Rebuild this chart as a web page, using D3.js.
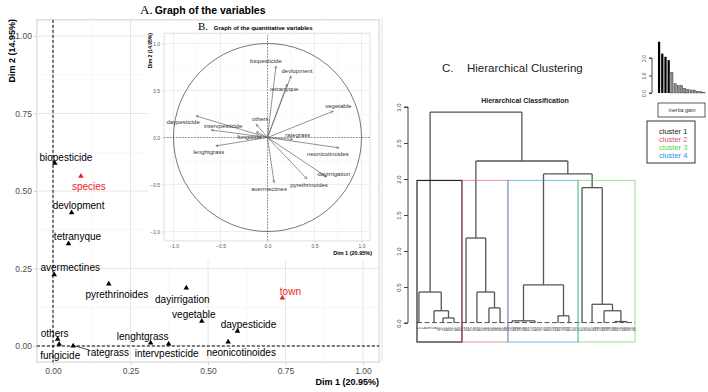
<!DOCTYPE html>
<html>
<head>
<meta charset="utf-8">
<script src="https://cdn.jsdelivr.net/npm/d3@7"></script>
<style>
  body { margin: 0; background: #fff; }
  text { font-family: "Liberation Sans", Arial, sans-serif; }
</style>
</head>
<body>
<script>
// ---- Data ----
// A. variables (correlation ratios on Dim 1 / Dim 2)
var varNames = ["biopesticide", "devlopment", "tetranyque", "avermectines", "pyrethrinoides",
  "dayirrigation", "vegetable", "daypesticide", "others", "fungicide", "rategrass",
  "lenghtgrass", "intervpesticide", "neonicotinoides"];
var varDim1 = [0.006, 0.06, 0.05, 0.004, 0.18, 0.43, 0.48, 0.595, 0.015, 0.02, 0.065, 0.315, 0.373, 0.565];
var varDim2 = [0.59, 0.43, 0.33, 0.23, 0.20, 0.187, 0.08, 0.048, 0.022, 0.006, 0.0, 0.01, 0.007, 0.013];
// supplementary qualitative variables
var supNames = ["species", "town"];
var supDim1 = [0.09, 0.74];
var supDim2 = [0.548, 0.155];

// B. quantitative variables (correlation circle)
var arrowNames = ["biopesticide", "devlopment", "tetranyque", "vegetable", "others", "daypesticide",
  "intervpesticide", "fungicide", "rategrass", "lenghtgrass", "neonicotinoides", "dayirrigation",
  "pyrethrinoides", "avermectines"];
var arrowDim1 = [0.09, 0.25, 0.21, 0.70, -0.12, -0.76, -0.60, -0.12, 0.27, -0.55, 0.76, 0.63, 0.42, 0.07];
var arrowDim2 = [0.76, 0.655, 0.57, 0.28, 0.14, 0.23, 0.08, 0.06, -0.02, -0.09, -0.11, -0.42, -0.44, -0.48];

// C. hierarchical clustering: merge heights, leaf positions (0-100 along the tree)
var tree = {h: 2.93, c: [
  {h: 0.43, c: [{x: 0.9}, {h: 0.17, c: [{x: 7.8}, {h: 0.07, c: [{x: 11.9}, {x: 17.0}]}]}]},
  {h: 2.25, c: [
    {h: 1.18, c: [{x: 22.5}, {h: 0.43, c: [{x: 27.5}, {h: 0.21, c: [{x: 33.0}, {x: 38.1}]}]}]},
    {h: 2.07, c: [
      {h: 0.53, c: [{h: 0.03, c: [{x: 43.6}, {x: 54.1}]}, {h: 0.10, c: [{x: 64.7}, {x: 69.7}]}]},
      {h: 1.88, c: [{x: 75.7}, {h: 0.26, c: [{x: 80.3}, {h: 0.17, c: [{x: 85.8}, {h: 0.02, c: [{x: 90.8}, {x: 96.3}]}]}]}]}
    ]}
  ]}
]};
var clusterNames = ["cluster 1", "cluster 2", "cluster 3", "cluster 4"];
var clusterColors = ["#000000", "#DF536B", "#61D04F", "#2297E6"];
// cluster boxes, left to right: [start, end, cluster index]
var boxStart = [0, 20.6, 41.7, 73.9];
var boxEnd = [20.6, 41.7, 73.9, 100];
var boxCluster = [0, 1, 3, 2];
var cutHeight = 1.98;
var inertiaGain = [2.93, 2.25, 2.07, 1.88, 1.18, 0.53, 0.43, 0.43, 0.26, 0.21, 0.17, 0.17, 0.10, 0.07, 0.03];
var individuals = d3.range(1, 99).map(String);

// ---- Layout ----
var svg = d3.select("body").append("svg")
  .attr("width", 708)
  .attr("height", 392);

var serif = "'Liberation Serif', 'Times New Roman', serif";

// ========== Panel A ==========
var xA = d3.scaleLinear().domain([0, 1]).range([53, 363]);
var yA = d3.scaleLinear().domain([0, 1]).range([346, 36]);
var lo = -0.052, hi = 1.052;

var gA = svg.append("g");
gA.append("rect")
  .attr("x", xA(lo)).attr("y", yA(hi))
  .attr("width", xA(hi) - xA(lo)).attr("height", yA(lo) - yA(hi))
  .attr("fill", "#fff").attr("stroke", "#cfcfcf");

var majorA = [0, 0.25, 0.5, 0.75, 1];
var minorA = [0.125, 0.375, 0.625, 0.875];
function gridA(vals, col, w) {
  gA.selectAll(null).data(vals).enter().append("line")
    .attr("x1", d => xA(d)).attr("x2", d => xA(d))
    .attr("y1", yA(hi)).attr("y2", yA(lo))
    .attr("stroke", col).attr("stroke-width", w);
  gA.selectAll(null).data(vals).enter().append("line")
    .attr("y1", d => yA(d)).attr("y2", d => yA(d))
    .attr("x1", xA(lo)).attr("x2", xA(hi))
    .attr("stroke", col).attr("stroke-width", w);
}
gridA(minorA, "#f2f2f2", 0.6);
gridA(majorA, "#e3e3e3", 0.9);

// axes
var axA = gA.append("g")
  .attr("transform", `translate(0, ${yA(lo)})`)
  .call(d3.axisBottom(xA).tickValues(majorA).tickFormat(d3.format(".2f")).tickSize(3).tickPadding(3));
var ayA = gA.append("g")
  .attr("transform", `translate(${xA(lo)}, 0)`)
  .call(d3.axisLeft(yA).tickValues(majorA).tickFormat(d3.format(".2f")).tickSize(3).tickPadding(2));
[axA, ayA].forEach(function(a) {
  a.select(".domain").remove();
  a.selectAll("line").attr("stroke", "#cfcfcf");
  a.selectAll("text").attr("fill", "#4d4d4d").style("font-size", "8.5px")
    .style("font-family", "'Liberation Sans', Arial, sans-serif");
});

// reference lines
gA.append("line")
  .attr("x1", xA(0)).attr("x2", xA(0)).attr("y1", yA(hi)).attr("y2", yA(lo))
  .attr("stroke", "#000").attr("stroke-dasharray", "3,2");
gA.append("line")
  .attr("x1", xA(lo)).attr("x2", xA(hi)).attr("y1", yA(0)).attr("y2", yA(0))
  .attr("stroke", "#000").attr("stroke-dasharray", "3,2");

// axis titles
gA.append("text")
  .attr("x", xA(hi)).attr("y", 385)
  .attr("text-anchor", "end")
  .style("font-size", "9px").style("font-weight", "bold")
  .text("Dim 1 (20.95%)");
gA.append("text")
  .attr("transform", `translate(15, ${yA(hi) - 1}) rotate(-90)`)
  .attr("text-anchor", "end")
  .style("font-size", "9px").style("font-weight", "bold")
  .text("Dim 2 (14.95%)");

// title
var tA = gA.append("text").attr("x", 140).attr("y", 14);
tA.append("tspan").style("font-family", serif).style("font-size", "13px").text("A.");
tA.append("tspan").attr("dx", 2).style("font-size", "10.5px").style("font-weight", "bold").text("Graph of the variables");

// ========== Panel B (inset) ==========
var gB = svg.append("g");
gB.append("rect").attr("x", 148).attr("y", 21).attr("width", 230).attr("height", 240)
  .attr("fill", "#fff");

var xB = d3.scaleLinear().domain([-1, 1]).range([173.5, 361.5]);
var yB = d3.scaleLinear().domain([-1, 1]).range([231.5, 43.5]);
var loB = -1.1, hiB = 1.09;

gB.append("rect")
  .attr("x", xB(loB)).attr("y", yB(hiB + 0.02))
  .attr("width", xB(hiB) - xB(loB)).attr("height", yB(loB) - yB(hiB + 0.02))
  .attr("fill", "#fff").attr("stroke", "#d5d5d5").attr("stroke-width", 0.8);

var majorB = [-1, -0.5, 0, 0.5, 1];
var minorB = [-0.75, -0.25, 0.25, 0.75];
function gridB(vals, col, w) {
  gB.selectAll(null).data(vals).enter().append("line")
    .attr("x1", d => xB(d)).attr("x2", d => xB(d))
    .attr("y1", yB(hiB + 0.02)).attr("y2", yB(loB))
    .attr("stroke", col).attr("stroke-width", w);
  gB.selectAll(null).data(vals).enter().append("line")
    .attr("y1", d => yB(d)).attr("y2", d => yB(d))
    .attr("x1", xB(loB)).attr("x2", xB(hiB))
    .attr("stroke", col).attr("stroke-width", w);
}
gridB(minorB, "#f3f3f3", 0.5);
gridB(majorB, "#e6e6e6", 0.7);

var axB = gB.append("g")
  .attr("transform", `translate(0, ${yB(loB)})`)
  .call(d3.axisBottom(xB).tickValues(majorB).tickFormat(d3.format(".1f")).tickSize(2).tickPadding(2));
var ayB = gB.append("g")
  .attr("transform", `translate(${xB(loB)}, 0)`)
  .call(d3.axisLeft(yB).tickValues(majorB).tickFormat(d3.format(".1f")).tickSize(2).tickPadding(2));
[axB, ayB].forEach(function(a) {
  a.select(".domain").remove();
  a.selectAll("line").attr("stroke", "#d5d5d5");
  a.selectAll("text").attr("fill", "#555").style("font-size", "5px")
    .style("font-family", "'Liberation Sans', Arial, sans-serif");
});

// circle and reference lines
gB.append("circle")
  .attr("cx", xB(0)).attr("cy", yB(0)).attr("r", xB(1) - xB(0))
  .attr("fill", "none").attr("stroke", "#555").attr("stroke-width", 0.8);
gB.append("line")
  .attr("x1", xB(0)).attr("x2", xB(0)).attr("y1", yB(hiB)).attr("y2", yB(loB))
  .attr("stroke", "#555").attr("stroke-width", 0.7).attr("stroke-dasharray", "1.5,1.5");
gB.append("line")
  .attr("x1", xB(loB)).attr("x2", xB(hiB)).attr("y1", yB(0)).attr("y2", yB(0))
  .attr("stroke", "#555").attr("stroke-width", 0.7).attr("stroke-dasharray", "1.5,1.5");

svg.append("defs").append("marker")
  .attr("id", "arr").attr("viewBox", "0 0 10 10")
  .attr("refX", 9).attr("refY", 5)
  .attr("markerWidth", 5).attr("markerHeight", 5)
  .attr("orient", "auto")
  .append("path").attr("d", "M1,1 L9,5 L1,9")
  .attr("fill", "none").attr("stroke", "#666").attr("stroke-width", 1.4);

gB.selectAll(null).data(arrowNames).enter().append("line")
  .attr("x1", xB(0)).attr("y1", yB(0))
  .attr("x2", (d, i) => xB(arrowDim1[i])).attr("y2", (d, i) => yB(arrowDim2[i]))
  .attr("stroke", "#666").attr("stroke-width", 0.7)
  .attr("marker-end", "url(#arr)");

// label nudges for the inset (pixels)
var nudgeB = [[-10, -5], [6, -5], [-3, 5], [5, -5], [4, -5], [-13, 6], [12, -4], [-7, 5],
  [5, -4], [-7, 6], [-11, 6], [7, -3], [2, 6], [-5, 6]];
gB.selectAll(null).data(arrowNames).enter().append("text")
  .attr("x", (d, i) => xB(arrowDim1[i]) + nudgeB[i][0])
  .attr("y", (d, i) => yB(arrowDim2[i]) + nudgeB[i][1])
  .attr("text-anchor", "middle").attr("dy", "0.35em")
  .attr("fill", "#333").style("font-size", "6px")
  .text(d => d);

gB.append("text")
  .attr("x", 372).attr("y", 255).attr("text-anchor", "end")
  .style("font-size", "5.5px").style("font-weight", "bold")
  .text("Dim 1 (20.95%)");
gB.append("text")
  .attr("transform", `translate(152, 33) rotate(-90)`)
  .attr("text-anchor", "end")
  .style("font-size", "5px").style("font-weight", "bold")
  .text("Dim 2 (14.95%)");
var tB = gB.append("text").attr("x", 198).attr("y", 30);
tB.append("tspan").style("font-family", serif).style("font-size", "11px").text("B. ");
tB.append("tspan").style("font-size", "6px").style("font-weight", "bold").attr("dx", 3)
  .text("Graph of the quantitative variables");

// ========== Panel A points (drawn above inset like the original) ==========
var pts = varNames.map((n, i) => ({name: n, x: varDim1[i], y: varDim2[i], col: "#000"}))
  .concat(supNames.map((n, i) => ({name: n, x: supDim1[i], y: supDim2[i], col: "#ee1c1c"})));
// label nudges (pixels), same order as pts
var nudgeA = [[11, -6], [7, -7], [9, -7], [16, -7], [8, 10], [-4, 11], [-8, -7], [11, -7],
  [-3, -6], [1, 11], [35, 6], [-8, -6], [-2, 10], [13, 11], [8, 10], [8, -6]];

var tri = d3.symbol().type(d3.symbolTriangle).size(13);
svg.selectAll(null).data(pts).enter().append("path")
  .attr("d", tri)
  .attr("transform", d => `translate(${xA(d.x)}, ${yA(d.y)})`)
  .attr("fill", d => d.col);

// rategrass connector
var rg = varNames.indexOf("rategrass");
svg.append("line")
  .attr("x1", xA(varDim1[rg]) + 2).attr("y1", yA(varDim2[rg]))
  .attr("x2", xA(varDim1[rg]) + nudgeA[rg][0] - 19).attr("y2", yA(varDim2[rg]) + nudgeA[rg][1] - 2)
  .attr("stroke", "#000").attr("stroke-width", 0.7);

svg.selectAll(null).data(pts).enter().append("text")
  .attr("x", (d, i) => xA(d.x) + nudgeA[i][0])
  .attr("y", (d, i) => yA(d.y) + nudgeA[i][1])
  .attr("text-anchor", "middle").attr("dy", "0.35em")
  .attr("fill", d => d.col)
  .style("font-size", "10px")
  .text(d => d.name);

// ========== Panel C ==========
var gC = svg.append("g");
gC.append("line").attr("x1", 382).attr("x2", 382).attr("y1", 18).attr("y2", 362)
  .attr("stroke", "#e2e2e2");

var tC = gC.append("text").attr("x", 442).attr("y", 72).attr("fill", "#222")
  .style("font-size", "11.5px");
tC.append("tspan").text("C.");
tC.append("tspan").attr("x", 467).text("Hierarchical Clustering");

gC.append("text").attr("x", 525).attr("y", 103).attr("text-anchor", "middle")
  .style("font-size", "7px").style("font-weight", "bold").attr("fill", "#222")
  .text("Hierarchical Classification");

var xC = d3.scaleLinear().domain([0, 100]).range([417, 635]);
var yC = d3.scaleLinear().domain([0, 3]).range([323, 107]);

var ayC = gC.append("g").attr("transform", "translate(408, 0)")
  .call(d3.axisLeft(yC).tickValues([0, 0.5, 1, 1.5, 2, 2.5, 3]).tickFormat(d3.format(".1f")).tickSize(4));
ayC.select(".domain").attr("stroke", "#444").attr("d", `M-4,${yC(0)}H0V${yC(3)}H-4`);
ayC.selectAll("line").attr("stroke", "#444");
ayC.selectAll("text")
  .attr("transform", "rotate(-90)").attr("x", 0).attr("y", -7).attr("dy", 0)
  .style("text-anchor", "middle").style("font-size", "6px").attr("fill", "#444")
  .style("font-family", "'Liberation Sans', Arial, sans-serif");

// tree
var root = d3.hierarchy(tree, d => d.c);
root.eachAfter(function(n) {
  if (n.children) {
    n.px = d3.mean(n.children, c => c.px);
    n.ph = n.data.h;
  } else {
    n.px = n.data.x;
    n.ph = 0;
  }
});
var segs = [];
root.each(function(n) {
  if (!n.children) return;
  segs.push([n.children[0].px, n.ph, n.children[1].px, n.ph]);
  n.children.forEach(c => segs.push([c.px, c.ph, c.px, n.ph]));
});

// tiny merges near zero
gC.append("line")
  .attr("x1", xC(0)).attr("x2", xC(100)).attr("y1", yC(0.006)).attr("y2", yC(0.006))
  .attr("stroke", "#555").attr("stroke-width", 1).attr("stroke-dasharray", "5,2.5");

gC.selectAll(null).data(segs).enter().append("line")
  .attr("x1", d => xC(d[0])).attr("y1", d => yC(d[1]))
  .attr("x2", d => xC(d[2])).attr("y2", d => yC(d[3]))
  .attr("stroke", "#555").attr("stroke-width", 1.3);

// leaf labels
var xLeaf = d3.scaleBand().domain(individuals).range([xC(0), xC(100)]);
gC.selectAll(null).data(individuals).enter().append("text")
  .attr("transform", d => `translate(${xLeaf(d) + xLeaf.bandwidth() / 2 - 1}, 327) rotate(90)`)
  .attr("text-anchor", "start")
  .attr("fill", "#444").style("font-size", "3.6px")
  .text(d => d);

// cluster boxes
gC.selectAll(null).data(boxStart).enter().append("rect")
  .attr("x", (d, i) => xC(d)).attr("y", yC(cutHeight))
  .attr("width", (d, i) => xC(boxEnd[i]) - xC(d))
  .attr("height", 342 - yC(cutHeight))
  .attr("fill", "none")
  .attr("stroke", (d, i) => clusterColors[boxCluster[i]])
  .attr("stroke-opacity", (d, i) => i === 0 ? 0.85 : 0.55)
  .attr("stroke-width", 1.2);

// inertia gain barplot
var xI = d3.scaleBand().domain(d3.range(inertiaGain.length)).range([657, 706]).padding(0.3);
var yI = d3.scaleLinear().domain([0, 3]).range([93, 40.5]);
gC.selectAll(null).data(inertiaGain).enter().append("rect")
  .attr("x", (d, i) => xI(i)).attr("width", xI.bandwidth())
  .attr("y", d => yI(d)).attr("height", d => yI(0) - yI(d))
  .attr("fill", (d, i) => i < 4 ? "#000" : "#888")
  .attr("stroke", (d, i) => i < 4 ? "none" : "#333").attr("stroke-width", 0.4);
var ayI = gC.append("g").attr("transform", "translate(652, 0)")
  .call(d3.axisLeft(yI).tickValues([0, 1, 2]).tickFormat(d3.format(".1f")).tickSize(3));
ayI.select(".domain").attr("stroke", "#444").attr("d", `M-3,${yI(0)}H0V${yI(2)}H-3`);
ayI.selectAll("line").attr("stroke", "#444");
ayI.selectAll("text")
  .attr("transform", "rotate(-90)").attr("x", 0).attr("y", -6).attr("dy", 0)
  .style("text-anchor", "middle").style("font-size", "5px").attr("fill", "#444")
  .style("font-family", "'Liberation Sans', Arial, sans-serif");

gC.append("rect").attr("x", 658).attr("y", 103).attr("width", 47).attr("height", 14)
  .attr("fill", "none").attr("stroke", "#333").attr("stroke-width", 0.8);
gC.append("text").attr("x", 682).attr("y", 112).attr("text-anchor", "middle")
  .style("font-size", "5.5px").attr("fill", "#333").text("inertia gain");

// legend
gC.append("rect").attr("x", 647).attr("y", 121).attr("width", 48).attr("height", 42)
  .attr("fill", "none").attr("stroke", "#333").attr("stroke-width", 1);
gC.selectAll(null).data(clusterNames).enter().append("text")
  .attr("x", 659).attr("y", (d, i) => 133.5 + i * 8.3)
  .attr("fill", (d, i) => i === 0 ? "#222" : clusterColors[i])
  .style("font-size", "7.5px")
  .text(d => d);
</script>
</body>
</html>
